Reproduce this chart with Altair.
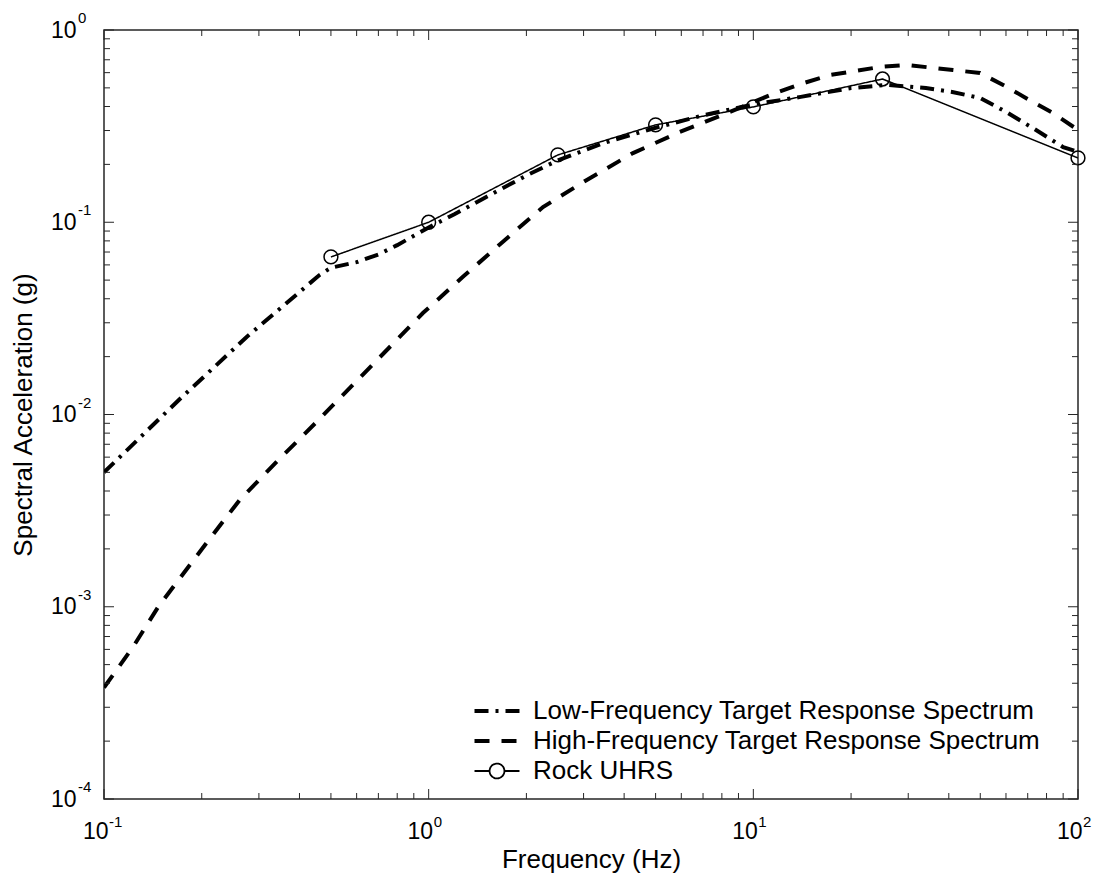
import altair as alt
import pandas as pd

# ---------------- data ----------------
series_names = [
    "Low-Frequency Target Response Spectrum",
    "High-Frequency Target Response Spectrum",
    "Rock UHRS",
]
series_widths = [4, 4, 1.5]

low_freq = [0.1, 0.17, 0.275, 0.46, 0.5, 0.6, 0.7, 0.8, 0.9, 1.0, 1.2, 1.5, 2.0, 2.5,
            3.5, 5.0, 7.0, 10.0, 14.0, 20.0, 25.8, 34.0, 41.0, 50.0, 60.0, 72.6, 90.0, 100.0]
low_sa = [0.0050, 0.0119, 0.0253, 0.053, 0.058, 0.062, 0.068, 0.076, 0.085, 0.094, 0.110, 0.135,
          0.175, 0.210, 0.260, 0.310, 0.360, 0.410, 0.449, 0.499, 0.518, 0.499, 0.476, 0.443,
          0.375, 0.309, 0.246, 0.232]

high_freq = [0.1, 0.123, 0.147, 0.207, 0.262, 0.341, 0.453, 0.585, 0.96, 1.275, 1.69, 2.25,
             3.07, 4.26, 5.94, 8.3, 11.5, 13.9, 17.2, 24.5, 29.7, 41.2, 49.9, 60.4, 72.6,
             83.7, 100.0]
high_sa = [0.00038, 0.00062, 0.0010, 0.00215, 0.0036, 0.0057, 0.0092, 0.0143, 0.0337, 0.052,
           0.079, 0.120, 0.166, 0.229, 0.295, 0.370, 0.465, 0.522, 0.583, 0.642, 0.658, 0.619,
           0.598, 0.505, 0.422, 0.370, 0.302]

rock_freq = [0.5, 1.0, 2.5, 5.0, 10.0, 25.0, 100.0]
rock_sa = [0.066, 0.100, 0.224, 0.321, 0.398, 0.556, 0.216]

x_major = [0.1, 1, 10, 100]
x_exponents = ["-1", "0", "1", "2"]
x_minor = [0.2, 0.3, 0.4, 0.5, 0.6, 0.7, 0.8, 0.9,
           2, 3, 4, 5, 6, 7, 8, 9,
           20, 30, 40, 50, 60, 70, 80, 90]
y_major = [1e-4, 1e-3, 1e-2, 1e-1, 1]
y_exponents = ["-4", "-3", "-2", "-1", "0"]
y_minor = [2e-4, 3e-4, 4e-4, 5e-4, 6e-4, 7e-4, 8e-4, 9e-4,
           2e-3, 3e-3, 4e-3, 5e-3, 6e-3, 7e-3, 8e-3, 9e-3,
           0.02, 0.03, 0.04, 0.05, 0.06, 0.07, 0.08, 0.09,
           0.2, 0.3, 0.4, 0.5, 0.6, 0.7, 0.8, 0.9]

# ---------------- layout ----------------
W, H = 974, 769
FONT = "Liberation Sans"
FRAME = "#262626"

lines_df = pd.concat([
    pd.DataFrame({"freq": low_freq, "sa": low_sa, "series": series_names[0],
                  "lw": series_widths[0]}),
    pd.DataFrame({"freq": high_freq, "sa": high_sa, "series": series_names[1],
                  "lw": series_widths[1]}),
    pd.DataFrame({"freq": rock_freq, "sa": rock_sa, "series": series_names[2],
                  "lw": series_widths[2]}),
], ignore_index=True)
rock_df = pd.DataFrame({"freq": rock_freq, "sa": rock_sa})

xscale = alt.Scale(type="log", domain=[0.1, 100], nice=False)
yscale = alt.Scale(type="log", domain=[1e-4, 1], nice=False)

line_path = "M-2,0L2,0"
rock_path = ("M-2,0L-0.66,0M0.66,0L2,0M0.66,0A0.66,0.66,0,1,1,-0.66,0"
             "A0.66,0.66,0,1,1,0.66,0")

legend = alt.Legend(
    title=None,
    orient="none",
    legendX=380,
    legendY=668,
    padding=0,
    symbolSize=506,
    symbolStrokeColor="black",
    symbolFillColor="transparent",
    symbolOpacity=1,
    symbolStrokeWidth={"expr": "datum.value === 'Rock UHRS' ? 1.8 : 4"},
    labelFont=FONT,
    labelFontSize=26,
    labelColor="black",
    labelOffset=23,
    rowPadding=4,
    labelLimit=700,
)

dash_enc = alt.StrokeDash(
    "series:N",
    scale=alt.Scale(domain=series_names, range=[[14, 7, 3, 7], [15, 12], [1, 0]]),
    legend=legend,
)
shape_enc = alt.Shape(
    "series:N", scale=alt.Scale(domain=series_names, range=[line_path, line_path, rock_path]),
    legend=legend,
)

x_axis = alt.Axis(
    values=x_major, labelExpr="'10'", ticks=False, domain=False, grid=False,
    labelFont=FONT, labelFontSize=23, labelColor="black", labelPadding=21,
    labelAlign="right", labelOffset=4, labelFlush=False, labelOverlap=False,
    title="Frequency (Hz)", titleFont=FONT, titleFontSize=26, titleFontWeight="normal",
    titleColor="black", titleX=487, titleY=68, titleBaseline="alphabetic", titleAlign="center",
)
y_axis = alt.Axis(
    values=y_major, labelExpr="'10'", ticks=False, domain=False, grid=False,
    labelFont=FONT, labelFontSize=23, labelColor="black", labelPadding=28,
    labelAlign="right", labelBaseline="middle", labelFlush=False, labelOverlap=False,
    title="Spectral Acceleration (g)", titleFont=FONT, titleFontSize=26,
    titleFontWeight="normal", titleColor="black", titleX=-81, titleY=H / 2,
    titleAngle=-90, titleBaseline="middle", titleAlign="center",
)

lines = alt.Chart(lines_df).mark_line(color="black", clip=True, strokeCap="butt").encode(
    x=alt.X("freq:Q", scale=xscale, axis=x_axis),
    y=alt.Y("sa:Q", scale=yscale, axis=y_axis),
    strokeDash=dash_enc,
    strokeWidth=alt.StrokeWidth("lw:Q", scale=None),
    detail="series:N",
)

# legend-only layer (draws nothing in the plot; it carries the legend symbols)
legend_layer = alt.Chart(lines_df).transform_filter("false").mark_point(
    filled=False, color="black", opacity=1
).encode(
    x=alt.X("freq:Q", scale=xscale),
    y=alt.Y("sa:Q", scale=yscale),
    shape=shape_enc,
    strokeDash=dash_enc,
)

points = alt.Chart(rock_df).mark_point(
    shape="circle", filled=False, size=190, strokeWidth=1.5, color="black", opacity=1
).encode(
    x=alt.X("freq:Q", scale=xscale),
    y=alt.Y("sa:Q", scale=yscale),
)


def x_ticks(vals, length, top):
    df = pd.DataFrame({"freq": vals})
    if top:
        yy, yy2 = alt.value(0), alt.value(length)
    else:
        yy, yy2 = alt.value(H), alt.value(H - length)
    return alt.Chart(df).mark_rule(color=FRAME, strokeWidth=1).encode(
        x=alt.X("freq:Q", scale=xscale), y=yy, y2=yy2
    )


def y_ticks(vals, length, right):
    df = pd.DataFrame({"sa": vals})
    if right:
        xx, xx2 = alt.value(W), alt.value(W - length)
    else:
        xx, xx2 = alt.value(0), alt.value(length)
    return alt.Chart(df).mark_rule(color=FRAME, strokeWidth=1).encode(
        y=alt.Y("sa:Q", scale=yscale), x=xx, x2=xx2
    )


tick_layers = [
    x_ticks(x_major, 10, False), x_ticks(x_minor, 6, False),
    x_ticks(x_major, 10, True), x_ticks(x_minor, 6, True),
    y_ticks(y_major, 10, False), y_ticks(y_minor, 6, False),
    y_ticks(y_major, 10, True), y_ticks(y_minor, 6, True),
]

x_exp = alt.Chart(pd.DataFrame({"freq": x_major, "e": x_exponents})).mark_text(
    font=FONT, fontSize=15, color="black", align="left", baseline="alphabetic", dx=5
).encode(x=alt.X("freq:Q", scale=xscale), y=alt.value(H + 28), text="e:N")

y_exp = alt.Chart(pd.DataFrame({"sa": y_major, "e": y_exponents})).mark_text(
    font=FONT, fontSize=15, color="black", align="left", baseline="alphabetic", dy=-7
).encode(y=alt.Y("sa:Q", scale=yscale), x=alt.value(-26), text="e:N")

chart = alt.layer(lines, legend_layer, points, *tick_layers, x_exp, y_exp).properties(
    width=W,
    height=H,
    autosize=alt.AutoSizeParams(type="none"),
    padding={"left": 104, "top": 30, "right": 25, "bottom": 79},
    background="white",
).configure_view(stroke=FRAME, strokeWidth=1.5)

chart.save("out.html", embed_options={"renderer": "svg", "actions": False})
